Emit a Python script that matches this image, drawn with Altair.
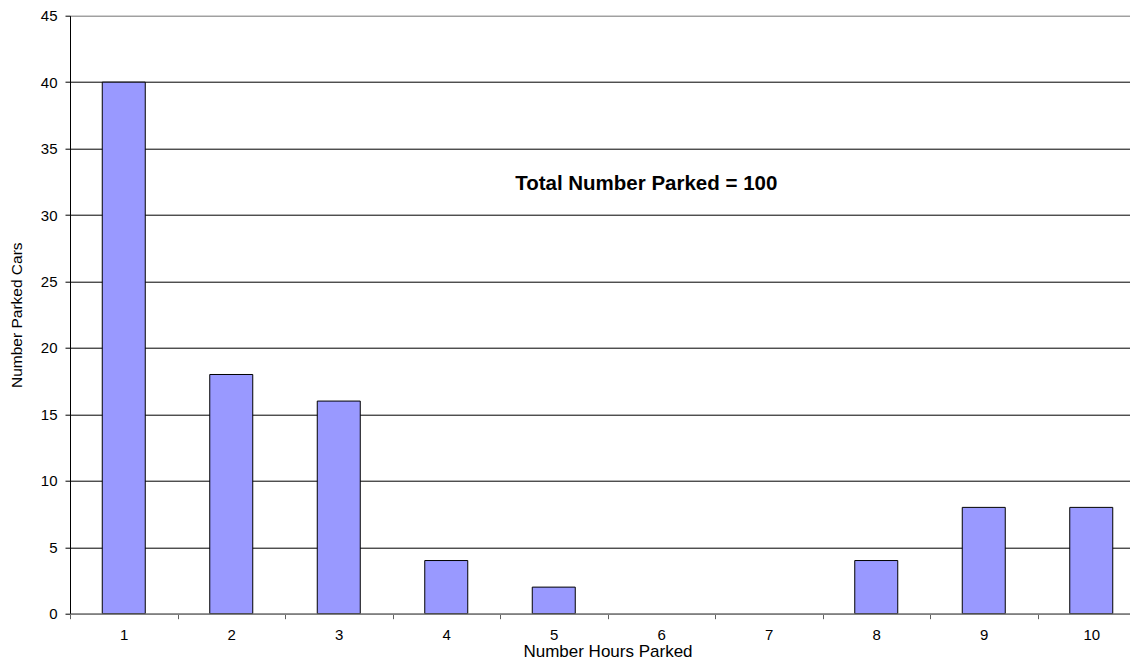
import altair as alt
import pandas as pd

hours = ["1", "2", "3", "4", "5", "6", "7", "8", "9", "10"]
cars = [40, 18, 16, 4, 2, 0, 0, 4, 8, 8]

annot_text = ["Total Number Parked = 100"]
annot_x = ["6"]
annot_y = [32.3]

df = pd.DataFrame({"hours": hours, "cars": cars})
ann = pd.DataFrame({"x": annot_x, "y": annot_y, "t": annot_text})

FONT = "Liberation Sans"

xscale = alt.Scale(domain=hours, paddingInner=0, paddingOuter=0)
yscale = alt.Scale(domain=[0, 45], nice=False)

bars = alt.Chart(df).transform_filter("datum.cars > 0").mark_bar(
    color="#9999FF", stroke="black", strokeWidth=1,
    width=alt.RelativeBandSize(0.4)
).encode(
    x=alt.X("hours:N", scale=xscale, sort=hours,
            axis=alt.Axis(title="Number Hours Parked", labelAngle=0,
                          tickBand="extent", tickSize=5, tickColor="#606060",
                          domainColor="#808080", domainWidth=1.5,
                          labelPadding=9, titlePadding=1,
                          labelFontSize=15, titleFontSize=17,
                          labelFont=FONT, titleFont=FONT,
                          labelColor="black", titleColor="black",
                          titleFontWeight="normal", grid=False, zindex=1)),
    y=alt.Y("cars:Q", scale=yscale,
            axis=alt.Axis(title="Number Parked Cars", values=list(range(0, 50, 5)),
                          tickSize=5, tickColor="black", domainColor="black",
                          labelPadding=8, titlePadding=16,
                          labelFontSize=15, titleFontSize=15.5,
                          labelFont=FONT, titleFont=FONT,
                          labelColor="black", titleColor="black",
                          titleFontWeight="normal",
                          grid=True, gridColor={"condition": {"test": "datum.value == 45", "value": "#808080"}, "value": "black"},
                          gridOpacity=1, gridWidth=1)),
)

text = alt.Chart(ann).mark_text(
    font=FONT, fontSize=20.5, fontWeight="bold", color="black",
    align="center", baseline="middle", dx=-15
).encode(
    x=alt.X("x:N", scale=xscale, sort=hours),
    y=alt.Y("y:Q", scale=yscale),
    text="t:N",
)

chart = alt.layer(bars, text).properties(
    width=1075, height=598,
    autosize=alt.AutoSizeParams(type="none"),
    padding={"left": 62, "top": 7.7, "right": -15, "bottom": 47.3},
).configure_view(stroke=None).configure(background="white")

chart.save("out.html", embed_options={"renderer": "svg", "actions": False})
